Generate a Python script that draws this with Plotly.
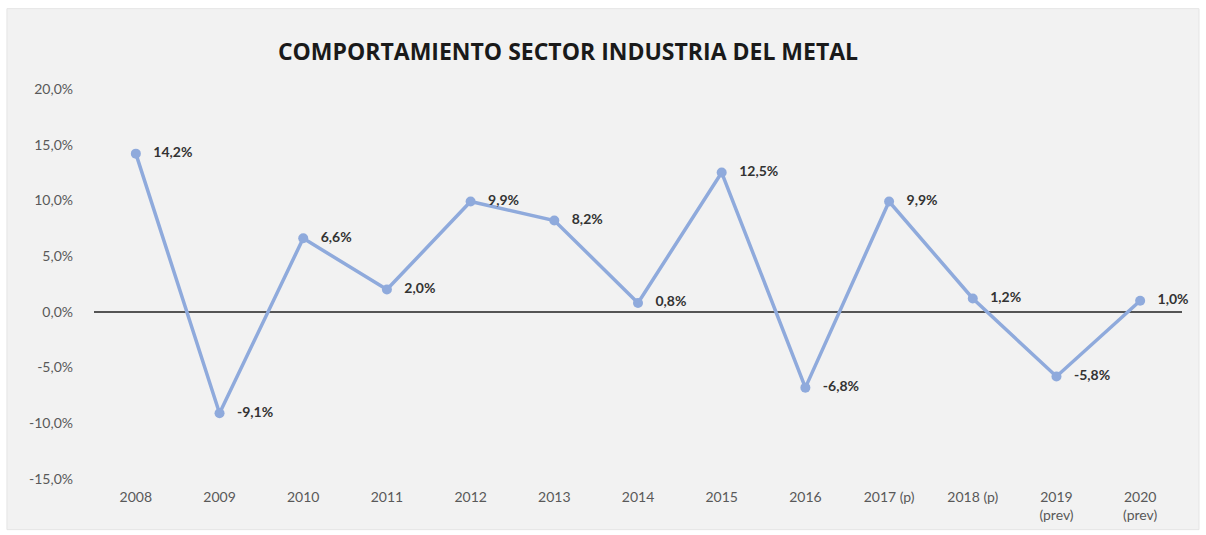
import plotly.graph_objects as go

# Annual growth of the metal industry sector (%)
years = ["2008", "2009", "2010", "2011", "2012", "2013", "2014", "2015",
         "2016", "2017 (p)", "2018 (p)", "2019<br>(prev)", "2020<br>(prev)"]
growth = [14.2, -9.1, 6.6, 2.0, 9.9, 8.2, 0.8, 12.5, -6.8, 9.9, 1.2, -5.8, 1.0]
y_ticks = [-15, -10, -5, 0, 5, 10, 15, 20]
y_tick_labels = ["-15,0%", "-10,0%", "-5,0%", "0,0%", "5,0%", "10,0%", "15,0%", "20,0%"]

title_text = "COMPORTAMIENTO SECTOR INDUSTRIA DEL METAL"

line_color = "#8FAADC"
labels = ["\u00a0\u00a0\u00a0" + f"{v:.1f}".replace(".", ",") + "%" for v in growth]

fig = go.Figure()
fig.add_trace(go.Scatter(
    x=years,
    y=growth,
    mode="lines+markers+text",
    line=dict(color=line_color, width=3.5),
    marker=dict(color=line_color, size=10),
    text=labels,
    textposition="middle right",
    textfont=dict(family="Lato", size=14, color="#333333", weight="bold"),
    cliponaxis=False,
    showlegend=False,
))

# light grey chart panel behind everything
fig.add_shape(
    type="rect", xref="paper", yref="paper",
    x0=-0.080, x1=1.0156, y0=-0.1298, y1=1.206,
    fillcolor="#f2f2f2", line=dict(color="#e4e4e4", width=1),
    layer="below",
)

fig.update_layout(
    width=1206, height=535,
    margin=dict(l=94, r=24, t=89, b=53),
    paper_bgcolor="white",
    plot_bgcolor="#f2f2f2",
    title=dict(
        text=f"<b>{title_text}</b>",
        x=0.471, xref="container", xanchor="center",
        y=0.903, yref="container", yanchor="middle",
        font=dict(family="Open Sans", size=23, color="#1a1a1a", weight=800),
    ),
    xaxis=dict(
        type="category",
        range=[-0.5, len(years) - 0.5],
        showgrid=False, showline=False, zeroline=False,
        ticks="", ticklabelstandoff=8,
        tickfont=dict(family="Lato", size=14, color="#595959"),
    ),
    yaxis=dict(
        range=[-15, 20],
        tickvals=y_ticks,
        ticktext=y_tick_labels,
        showgrid=False, showline=False,
        zeroline=True, zerolinecolor="#555555", zerolinewidth=1.5,
        ticks="", ticklabelstandoff=20,
        tickfont=dict(family="Lato", size=14, color="#595959"),
    ),
)

fig.write_html("out.html")
